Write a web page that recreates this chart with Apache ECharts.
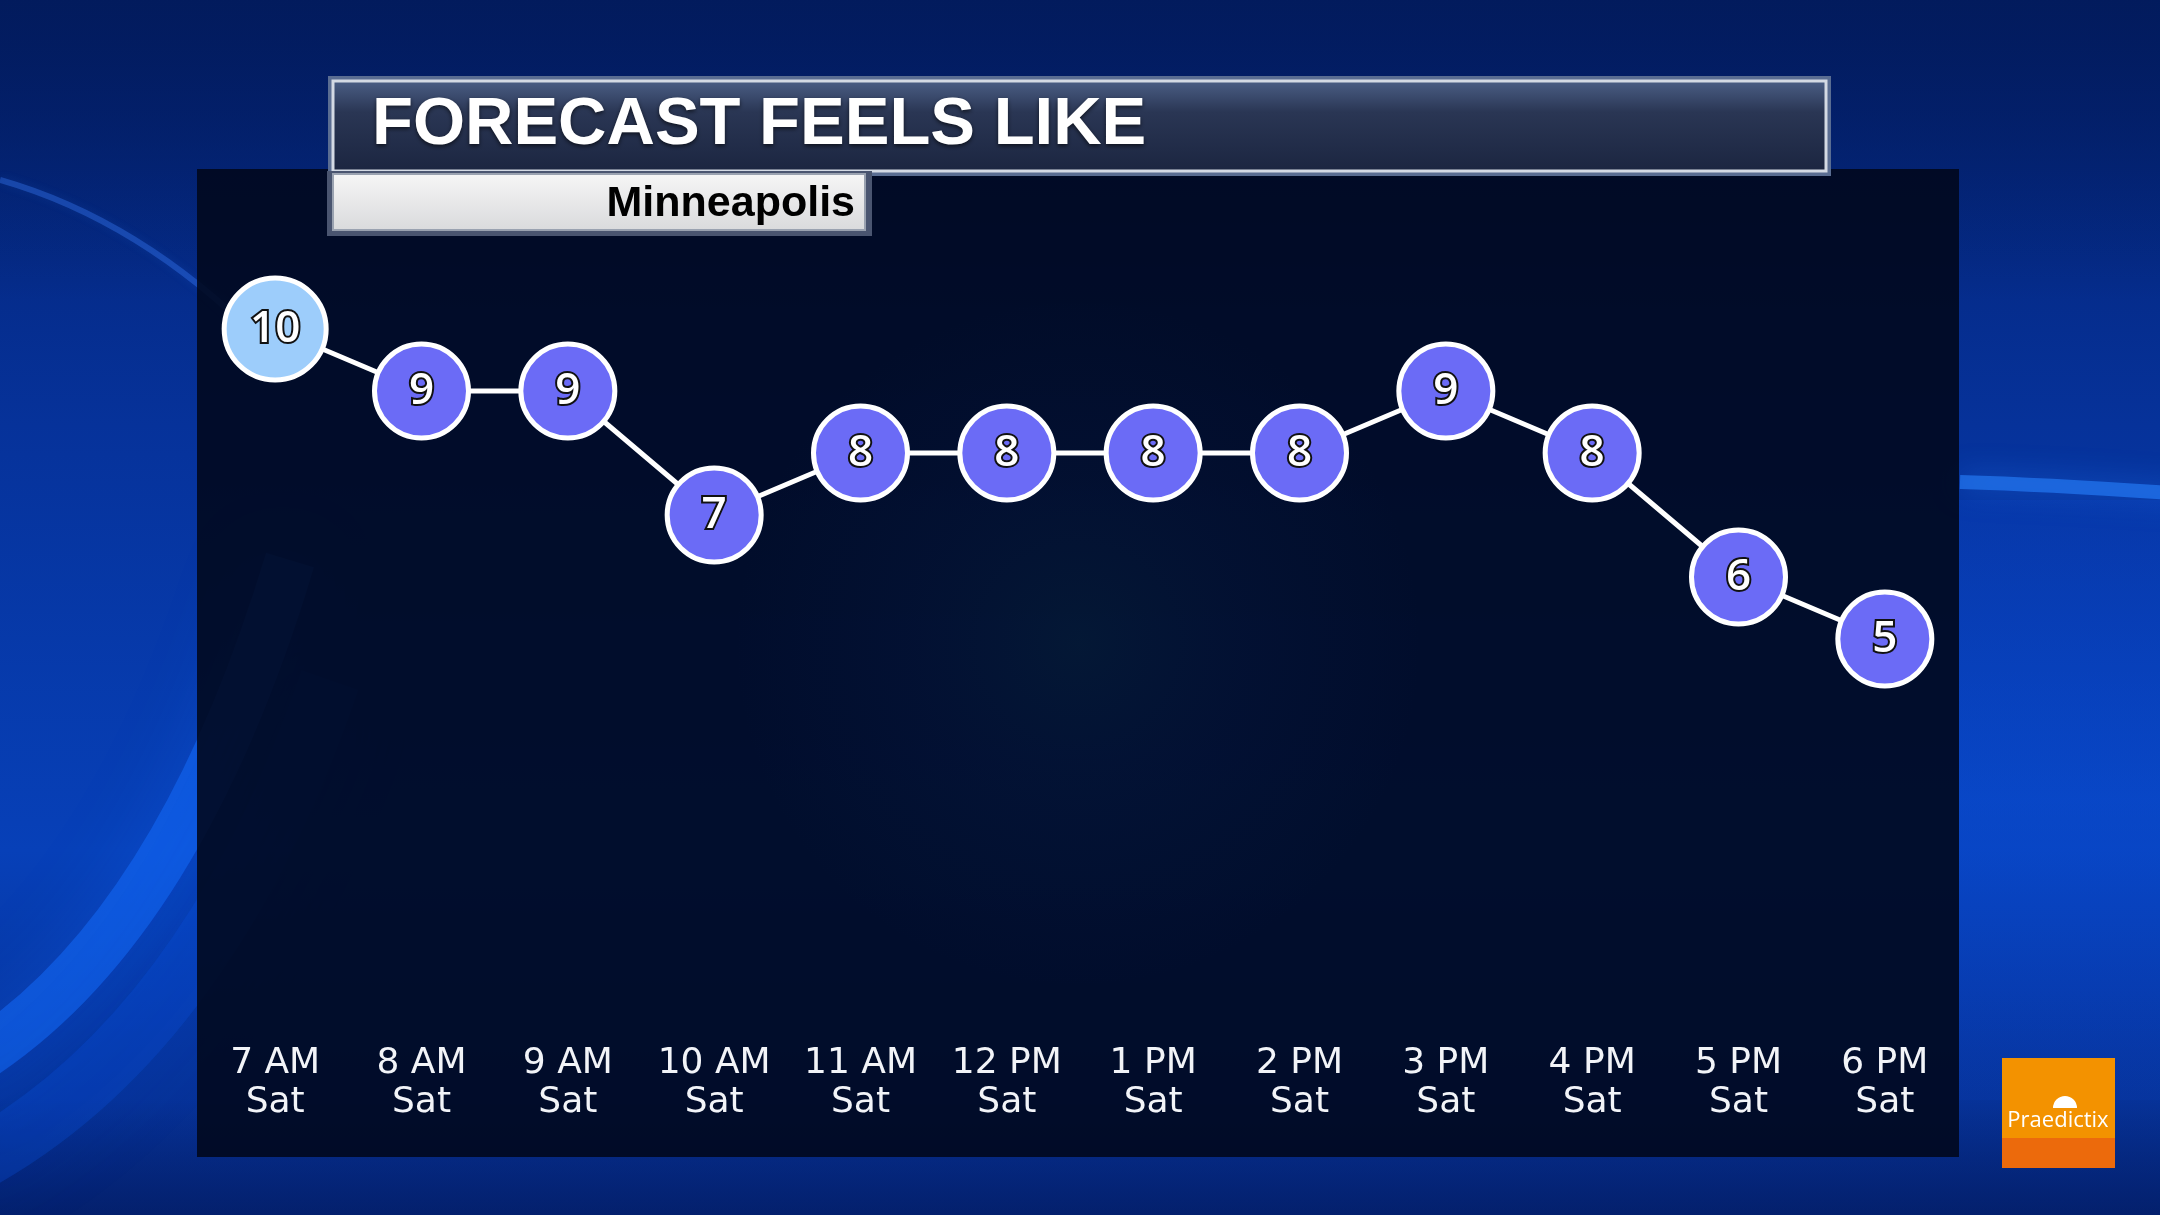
<!DOCTYPE html>
<html>
<head>
<meta charset="utf-8">
<title>Forecast Feels Like</title>
<script src="https://cdn.jsdelivr.net/npm/echarts@6/dist/echarts.min.js"></script>
<style>
  html, body { margin: 0; padding: 0; background: #031a5c; }
  #chart { width: 2160px; height: 1215px; }
</style>
</head>
<body>
<div id="chart"></div>
<script>
// data
const hours = ['7 AM', '8 AM', '9 AM', '10 AM', '11 AM', '12 PM', '1 PM', '2 PM', '3 PM', '4 PM', '5 PM', '6 PM'];
const days = ['Sat', 'Sat', 'Sat', 'Sat', 'Sat', 'Sat', 'Sat', 'Sat', 'Sat', 'Sat', 'Sat', 'Sat'];
const feelsLike = [10, 9, 9, 7, 8, 8, 8, 8, 9, 8, 6, 5];

const TITLE = 'FORECAST FEELS LIKE';
const CITY = 'Minneapolis';

const COLORS = {
  dot: '#6b6bf6',
  first: '#9dcdfb',
  line: '#ffffff',
  label: '#f2f4f8',
};

const chart = echarts.init(document.getElementById('chart'));

// soft light streaks in the backdrop (decoration only)
function streak(x1, y1, cpx1, cpy1, x2, y2, color, width, blur) {
  return {
    type: 'bezierCurve',
    shape: { x1, y1, cpx1, cpy1, x2, y2 },
    style: { fill: 'none', stroke: color, lineWidth: width, shadowBlur: blur, shadowColor: color },
    silent: true,
  };
}

chart.setOption({
  backgroundColor: {
    type: 'linear', x: 0, y: 0, x2: 0, y2: 1,
    colorStops: [
      { offset: 0, color: '#03206e' },
      { offset: 0.35, color: '#06329a' },
      { offset: 0.7, color: '#0740b8' },
      { offset: 1, color: '#062c8a' },
    ],
  },
  graphic: [
    { type: 'rect', shape: { x: 0, y: 0, width: 2160, height: 300 }, silent: true,
      style: { fill: { type: 'linear', x: 0, y: 0, x2: 0, y2: 1, colorStops: [
        { offset: 0, color: 'rgba(2,26,90,0.85)' }, { offset: 1, color: 'rgba(2,26,90,0)' } ] } } },
    { type: 'rect', shape: { x: 0, y: 1100, width: 2160, height: 115 }, silent: true,
      style: { fill: { type: 'linear', x: 0, y: 0, x2: 0, y2: 1, colorStops: [
        { offset: 0, color: 'rgba(2,24,90,0)' }, { offset: 1, color: 'rgba(2,24,90,0.6)' } ] } } },
    // left bright band and thin arc
    streak(-60, 1080, 170, 960, 290, 560, 'rgba(20,110,255,0.5)', 50, 70),
    streak(-60, 1180, 200, 1060, 330, 680, 'rgba(10,80,220,0.3)', 60, 80),
    streak(0, 180, 140, 220, 260, 340, 'rgba(60,130,255,0.35)', 6, 10),
    // right streak
    streak(1960, 482, 2060, 485, 2200, 495, 'rgba(40,130,255,0.6)', 14, 30),
    { type: 'rect', shape: { x: 1959, y: 500, width: 201, height: 600 }, silent: true,
      style: { fill: { type: 'linear', x: 0, y: 0, x2: 0, y2: 1, colorStops: [
        { offset: 0, color: 'rgba(10,70,210,0.2)' }, { offset: 0.5, color: 'rgba(10,80,220,0.45)' }, { offset: 1, color: 'rgba(10,70,210,0.1)' } ] } } },
    // dark panel
    { type: 'rect', shape: { x: 197, y: 169, width: 1762, height: 988 }, silent: true,
      style: { fill: 'rgba(1,8,28,0.89)' } },
    // faint glow inside the panel
    { type: 'rect', shape: { x: 197, y: 169, width: 1762, height: 988 }, silent: true,
      style: { fill: { type: 'radial', x: 0.5, y: 0.48, r: 0.35, colorStops: [
        { offset: 0, color: 'rgba(20,90,110,0.14)' }, { offset: 0.5, color: 'rgba(20,60,130,0.07)' }, { offset: 1, color: 'rgba(20,60,130,0)' } ] } } },
    // title bar
    { type: 'rect', shape: { x: 328, y: 76, width: 1503, height: 100 }, silent: true,
      style: { fill: '#5a6d92' } },
    { type: 'rect', shape: { x: 333, y: 81, width: 1493, height: 90 }, silent: true,
      style: { stroke: '#d4dae4', lineWidth: 3,
        fill: { type: 'linear', x: 0, y: 0, x2: 0, y2: 1, colorStops: [
          { offset: 0, color: '#4c6087' }, { offset: 0.35, color: '#2a3654' }, { offset: 1, color: '#1b2540' } ] } } },
    { type: 'text', silent: true,
      style: { text: TITLE, x: 372, y: 126, align: 'left', verticalAlign: 'middle',
        font: 'bold 67px "Liberation Sans", Arial, sans-serif', fill: '#ffffff',
        textShadowColor: 'rgba(0,0,0,0.6)', textShadowBlur: 4, textShadowOffsetY: 2 } },
    // city box
    { type: 'rect', shape: { x: 327, y: 171, width: 545, height: 65 }, silent: true,
      style: { fill: '#4a5570' } },
    { type: 'rect', shape: { x: 333, y: 174, width: 532, height: 56 }, silent: true,
      style: { stroke: '#9aa2b0', lineWidth: 2,
        fill: { type: 'linear', x: 0, y: 0, x2: 0, y2: 1, colorStops: [
          { offset: 0, color: '#f6f6f6' }, { offset: 1, color: '#d9dadc' } ] } } },
    { type: 'text', silent: true,
      style: { text: CITY, x: 855, y: 204, align: 'right', verticalAlign: 'middle',
        font: 'bold 43px "Liberation Sans", Arial, sans-serif', fill: '#000000' } },
    // logo
    { type: 'rect', shape: { x: 2002, y: 1058, width: 113, height: 110 }, silent: true,
      style: { fill: '#f39200' } },
    { type: 'rect', shape: { x: 2002, y: 1138, width: 113, height: 30 }, silent: true,
      style: { fill: '#ec6a0c' } },
    { type: 'sector', shape: { cx: 2065, cy: 1108, r0: 0, r: 12, startAngle: Math.PI, endAngle: 2 * Math.PI }, silent: true,
      style: { fill: '#ffffff' } },
    { type: 'text', silent: true,
      style: { text: 'Praedictix', x: 2058, y: 1121, align: 'center', verticalAlign: 'middle',
        font: '22px "Open Sans", sans-serif', fill: '#ffffff' } },
  ],
  grid: { left: 202, right: 202, top: 329, bottom: 266, containLabel: false },
  xAxis: {
    type: 'category',
    data: hours,
    boundaryGap: true,
    axisLine: { show: false },
    axisTick: { show: false },
    axisLabel: {
      interval: 0,
      hideOverlap: false,
      margin: 95,
      color: COLORS.label,
      fontFamily: 'DejaVu Sans',
      fontSize: 36,
      lineHeight: 39,
      formatter: (v, i) => v + '\n' + days[i],
    },
  },
  yAxis: {
    type: 'value',
    min: 0,
    max: 10,
    show: false,
    splitLine: { show: false },
  },
  series: [{
    type: 'line',
    data: feelsLike.map((v, i) => i === 0
      ? { value: v, symbolSize: 102, itemStyle: { color: COLORS.first } }
      : v),
    clip: false,
    symbol: 'circle',
    symbolSize: 94,
    showAllSymbol: true,
    lineStyle: { color: COLORS.line, width: 5 },
    itemStyle: { color: COLORS.dot, borderColor: '#ffffff', borderWidth: 5 },
    label: {
      show: true,
      position: 'inside',
      fontFamily: 'Open Sans',
      fontWeight: 600,
      fontSize: 44,
      color: '#ffffff',
      textBorderColor: '#111111',
      textBorderWidth: 4,
    },
    emphasis: { disabled: true },
    animation: false,
  }],
});
</script>
</body>
</html>
